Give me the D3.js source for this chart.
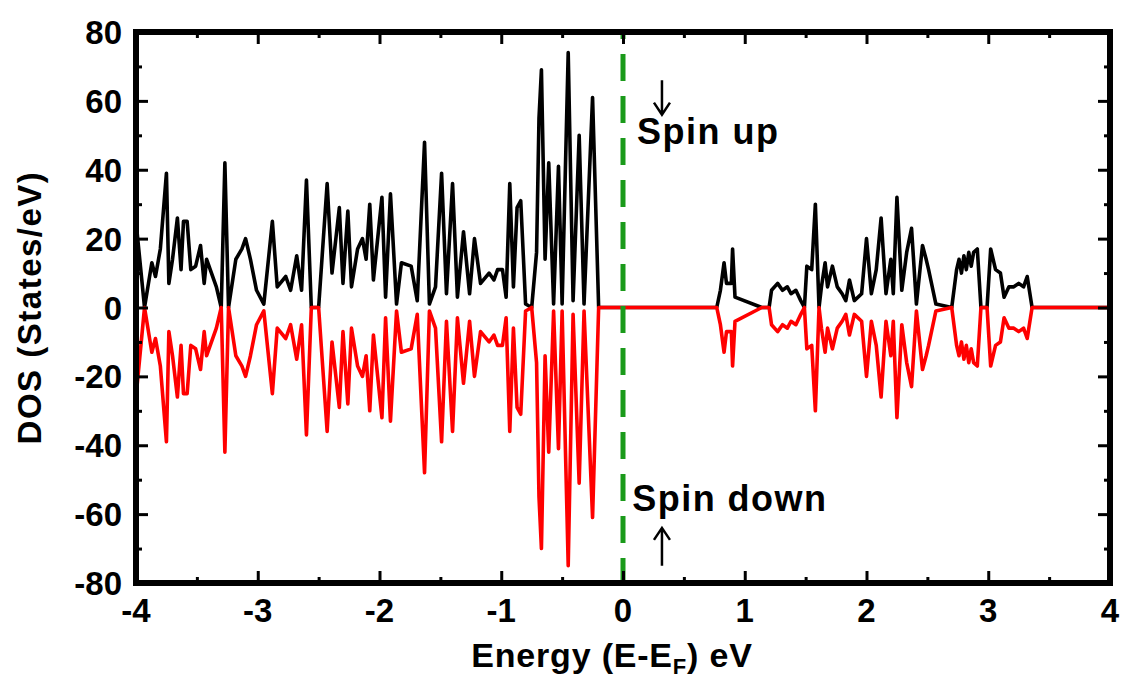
<!DOCTYPE html>
<html>
<head>
<meta charset="utf-8">
<script src="https://cdn.jsdelivr.net/npm/d3@7"></script>
<style>
  body { margin: 0; background: #fff; }
  text { font-family: "Liberation Sans", Arial, Helvetica, sans-serif; font-weight: bold; }
</style>
</head>
<body>
<svg id="chart" width="1125" height="684"></svg>
<script>
// energy grid (eV, relative to Fermi level)
var energy = [-4.00,-3.93,-3.87,-3.84,-3.80,-3.75,-3.73,-3.70,-3.66,-3.63,-3.61,-3.58,-3.55,-3.51,-3.47,-3.44,-3.42,-3.34,-3.30,-3.27,
  -3.24,-3.18,-3.13,-3.10,-3.06,-3.01,-2.95,-2.88,-2.84,-2.77,-2.73,-2.68,-2.64,-2.60,-2.56,-2.50,-2.43,-2.39,-2.33,-2.30,
  -2.26,-2.23,-2.18,-2.14,-2.11,-2.08,-2.05,-1.98,-1.95,-1.91,-1.86,-1.82,-1.74,-1.69,-1.63,-1.59,-1.54,-1.49,-1.45,-1.40,
  -1.36,-1.31,-1.26,-1.22,-1.17,-1.10,-1.06,-1.03,-0.99,-0.96,-0.93,-0.90,-0.87,-0.84,-0.80,-0.75,-0.71,-0.69,-0.67,-0.64,
  -0.61,-0.57,-0.53,-0.50,-0.45,-0.41,-0.36,-0.32,-0.25,-0.20,0.77,0.80,0.83,0.85,0.89,0.90,0.92,1.14,1.20,1.22,
  1.27,1.31,1.35,1.38,1.42,1.46,1.49,1.51,1.55,1.58,1.61,1.63,1.66,1.68,1.72,1.76,1.80,1.83,1.86,1.90,
  1.96,2.00,2.04,2.08,2.12,2.16,2.20,2.22,2.25,2.29,2.33,2.37,2.41,2.46,2.49,2.51,2.57,2.70,
  2.74,2.76,2.78,2.80,2.82,2.84,2.86,2.88,2.91,
  2.94,2.99,3.02,3.06,3.10,3.13,3.17,3.21,3.25,3.29,3.32,3.36,4.00];

// spin up DOS (States/eV)
var spinUp = [25,0,13,9,17,39,7,14,26,11,25,25,11,12,18,7,14,6,0,42,
  0,14,17,20,14,5,1,25,6,9,5,15,5,37,0,0,36,10,29,7,
  28,6,17,20,14,30,8,32,3,33,1,13,12,2,48,1,6,39,4,36,
  3,22,4,20,7,10,8,11,11,3,36,6,29,31,1,0,16,55,69,14,
  42,1,41,1,74,2,50,1,61,0,0,5,13,7,7,17,3,0,0,5,
  7,5,6,4,5,2,0,12,11,30,0,6,13,6,12,6,4,2,8,2,
  4,20,4,11,26,4,14,4,32,5,16,23,1,18,14,11,1,0,
  11,14,10,15,11,16,12,16,17,
  0,0,17,11,10,3,6,6,7,6,9,0,0];

// spin down DOS (States/eV)
var spinDown = [-26,0,-13,-9,-17,-39,-7,-14,-26,-11,-25,-25,-11,-12,-18,-7,-14,-6,0,-42,
  0,-14,-17,-20,-14,-5,-1,-25,-6,-9,-5,-15,-5,-37,0,0,-36,-10,-29,-7,
  -28,-6,-17,-20,-14,-30,-8,-32,-3,-33,-1,-13,-12,-2,-48,-1,-6,-39,-4,-36,
  -3,-22,-4,-20,-7,-10,-8,-11,-11,-3,-36,-6,-29,-31,-1,0,-16,-55,-70,-14,
  -42,-1,-41,-1,-75,-2,-51,-1,-61,0,0,-5,-13,-7,-7,-17,-4,0,0,-5,
  -7,-5,-6,-4,-5,-2,0,-12,-11,-30,0,-6,-13,-6,-12,-6,-4,-2,-8,-2,
  -4,-20,-4,-11,-26,-4,-14,-4,-32,-5,-16,-23,-1,-18,-14,-11,-1,0,
  -11,-14,-10,-15,-11,-16,-12,-16,-17,
  0,0,-17,-11,-10,-3,-6,-6,-7,-6,-9,0,0];

var xTicks = [-4,-3,-2,-1,0,1,2,3,4];
var yTicks = [-80,-60,-40,-20,0,20,40,60,80];
var xMinor = [-3.5,-2.5,-1.5,-0.5,0.5,1.5,2.5,3.5];
var yMinor = [-70,-50,-30,-10,10,30,50,70];

var svg = d3.select("#chart"),
    margin = {top: 32, right: 15, bottom: 101, left: 136},
    width = 1125 - margin.left - margin.right,
    height = 684 - margin.top - margin.bottom,
    g = svg.append("g").attr("transform", "translate(" + margin.left + "," + margin.top + ")");

var x = d3.scaleLinear().domain([-4, 4]).range([0, width]),
    y = d3.scaleLinear().domain([-80, 80]).range([height, 0]);

var line = d3.line()
  .x(function(d) { return x(d[0]); })
  .y(function(d) { return y(d[1]); });

var upData = energy.map(function(e, i) { return [e, spinUp[i]]; });
var dnData = energy.map(function(e, i) { return [e, spinDown[i]]; });

g.append("path").datum(upData)
  .attr("d", line).attr("fill", "none")
  .attr("stroke", "#000").attr("stroke-width", 3.6).attr("stroke-linejoin", "round");

g.append("path").datum(dnData)
  .attr("d", line).attr("fill", "none")
  .attr("stroke", "#ff0000").attr("stroke-width", 3.6).attr("stroke-linejoin", "round");

// Fermi level
g.append("line")
  .attr("x1", x(0)).attr("x2", x(0))
  .attr("y1", y(80)).attr("y2", y(-80))
  .attr("stroke", "#1a9a1a").attr("stroke-width", 5)
  .attr("stroke-dasharray", "27 15").attr("stroke-dashoffset", 20);

// ticks on all four sides, pointing inward
function ticks(axis, values, size, pos) {
  g.append("g").attr("transform", pos)
    .call(axis.tickValues(values).tickSizeInner(size).tickSizeOuter(0).tickFormat(""))
    .call(function(s) { s.select(".domain").remove(); s.selectAll("line").attr("stroke-width", 3); });
}
ticks(d3.axisBottom(x), xTicks, -12, "translate(0," + height + ")");
ticks(d3.axisBottom(x), xMinor, -6, "translate(0," + height + ")");
ticks(d3.axisTop(x), xTicks, -12, "translate(0,0)");
ticks(d3.axisTop(x), xMinor, -6, "translate(0,0)");
ticks(d3.axisLeft(y), yTicks, -12, "translate(0,0)");
ticks(d3.axisLeft(y), yMinor, -6, "translate(0,0)");
ticks(d3.axisRight(y), yTicks, -12, "translate(" + width + ",0)");
ticks(d3.axisRight(y), yMinor, -6, "translate(" + width + ",0)");

// frame
g.append("rect").attr("x", 0).attr("y", 0).attr("width", width).attr("height", height)
  .attr("fill", "none").attr("stroke", "#000").attr("stroke-width", 6);

// tick labels
g.selectAll(".xl").data(xTicks).enter().append("text")
  .attr("x", function(d) { return x(d); }).attr("y", height + 39)
  .attr("text-anchor", "middle").attr("font-size", 33)
  .text(function(d) { return d; });

g.selectAll(".yl").data(yTicks).enter().append("text")
  .attr("x", -14).attr("y", function(d) { return y(d) + 12; })
  .attr("text-anchor", "end").attr("font-size", 33)
  .text(function(d) { return d; });

// axis titles
var xt = svg.append("text").attr("x", 612).attr("y", 667)
  .attr("text-anchor", "middle").attr("font-size", 34).attr("letter-spacing", 0.8);
xt.append("tspan").text("Energy (E-E");
xt.append("tspan").attr("font-size", 22).attr("dy", 7).text("F");
xt.append("tspan").attr("dy", -7).text(") eV");

svg.append("text")
  .attr("transform", "translate(41," + (margin.top + y(0)) + ") rotate(-90)")
  .attr("text-anchor", "middle").attr("font-size", 33).attr("letter-spacing", 1.5)
  .text("DOS (States/eV)");

// spin labels with arrows
g.append("text").attr("x", x(0.115)).attr("y", y(47.5))
  .attr("font-size", 36).attr("letter-spacing", 1.5).text("Spin up");
g.append("text").attr("x", x(0.075)).attr("y", y(-59))
  .attr("font-size", 36).attr("letter-spacing", 1.5).text("Spin down");

var ax = x(0.32);
g.append("path")
  .attr("d", "M" + ax + "," + y(66) + "L" + ax + "," + y(56) +
             "M" + (ax - 8) + "," + (y(56) - 12) + "L" + ax + "," + y(56) + "L" + (ax + 8) + "," + (y(56) - 12))
  .attr("fill", "none").attr("stroke", "#000").attr("stroke-width", 2.5);
g.append("path")
  .attr("d", "M" + ax + "," + y(-75) + "L" + ax + "," + y(-64) +
             "M" + (ax - 8) + "," + (y(-64) + 12) + "L" + ax + "," + y(-64) + "L" + (ax + 8) + "," + (y(-64) + 12))
  .attr("fill", "none").attr("stroke", "#000").attr("stroke-width", 2.5);
</script>
</body>
</html>
